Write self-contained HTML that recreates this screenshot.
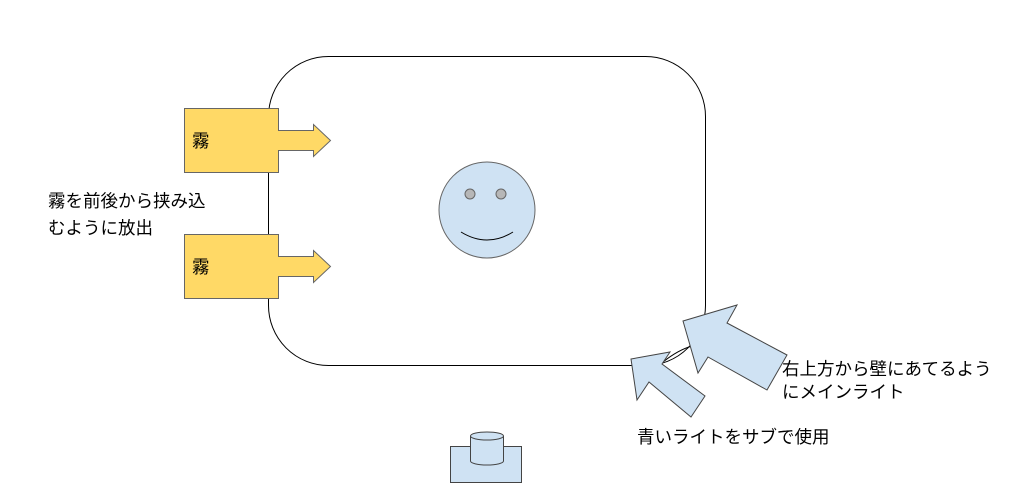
<!DOCTYPE html>
<html><head><meta charset="utf-8"><style>
body{margin:0;background:#fff;width:1024px;height:493px;overflow:hidden}
svg text{font-family:"Liberation Sans","Noto Sans CJK JP",sans-serif;font-size:17.5px;fill:#000}
</style></head><body>
<svg width="1024" height="493" viewBox="0 0 1024 493">
<rect x="268.5" y="56.5" width="437" height="309" rx="60" fill="#fff" stroke="#000" stroke-width="1"/>
<g fill="#ffd966" stroke="#666" stroke-width="1">
<rect x="184.5" y="108.5" width="94" height="64"/>
<polygon points="278.5,130.5 313.5,130.5 313.5,124.5 330.5,140.5 313.5,156.5 313.5,150.5 278.5,150.5"/>
<rect x="184.5" y="234.5" width="94" height="64"/>
<polygon points="278.5,256.5 313.5,256.5 313.5,250.5 330.5,266.5 313.5,282.5 313.5,276.5 278.5,276.5"/>
</g>
<rect x="276" y="131" width="4" height="19" fill="#ffd966"/>
<rect x="276" y="257" width="4" height="19" fill="#ffd966"/>
<text x="192" y="147">霧</text>
<text x="192" y="273">霧</text>
<text x="48" y="207">霧を前後から挟み込</text>
<text x="48" y="234">むように放出</text>
<circle cx="487" cy="210" r="48" fill="#cfe2f3" stroke="#666"/>
<circle cx="470" cy="194" r="5" fill="#b7b7b7" stroke="#666"/>
<circle cx="501" cy="194" r="5" fill="#b7b7b7" stroke="#666"/>
<path d="M461 232 Q487 248 513 232" fill="none" stroke="#000"/>
<path d="M663 362 Q678 350 692 346" fill="none" stroke="#000"/>
<g fill="#cfe2f3" stroke="#444" stroke-width="1">
<polygon points="683,321 737,305 727,323 787,355 767,390 708,357 698,373"/>
<polygon points="631,359 670,352 662,364 705,396 691,417 649,382 637,400"/>
</g>
<text x="782" y="375">右上方から壁にあてるよう</text>
<text x="782" y="398">にメインライト</text>
<text x="637" y="443">青いライトをサブで使用</text>
<rect x="450.5" y="446.5" width="71" height="36" fill="#cfe2f3" stroke="#444"/>
<path d="M470.5 436 V461 A16.5 4 0 0 0 503.5 461 V436" fill="#cfe2f3" stroke="#444"/>
<ellipse cx="487" cy="436" rx="16.5" ry="4" fill="#cfe2f3" stroke="#444"/>
</svg>
</body></html>
